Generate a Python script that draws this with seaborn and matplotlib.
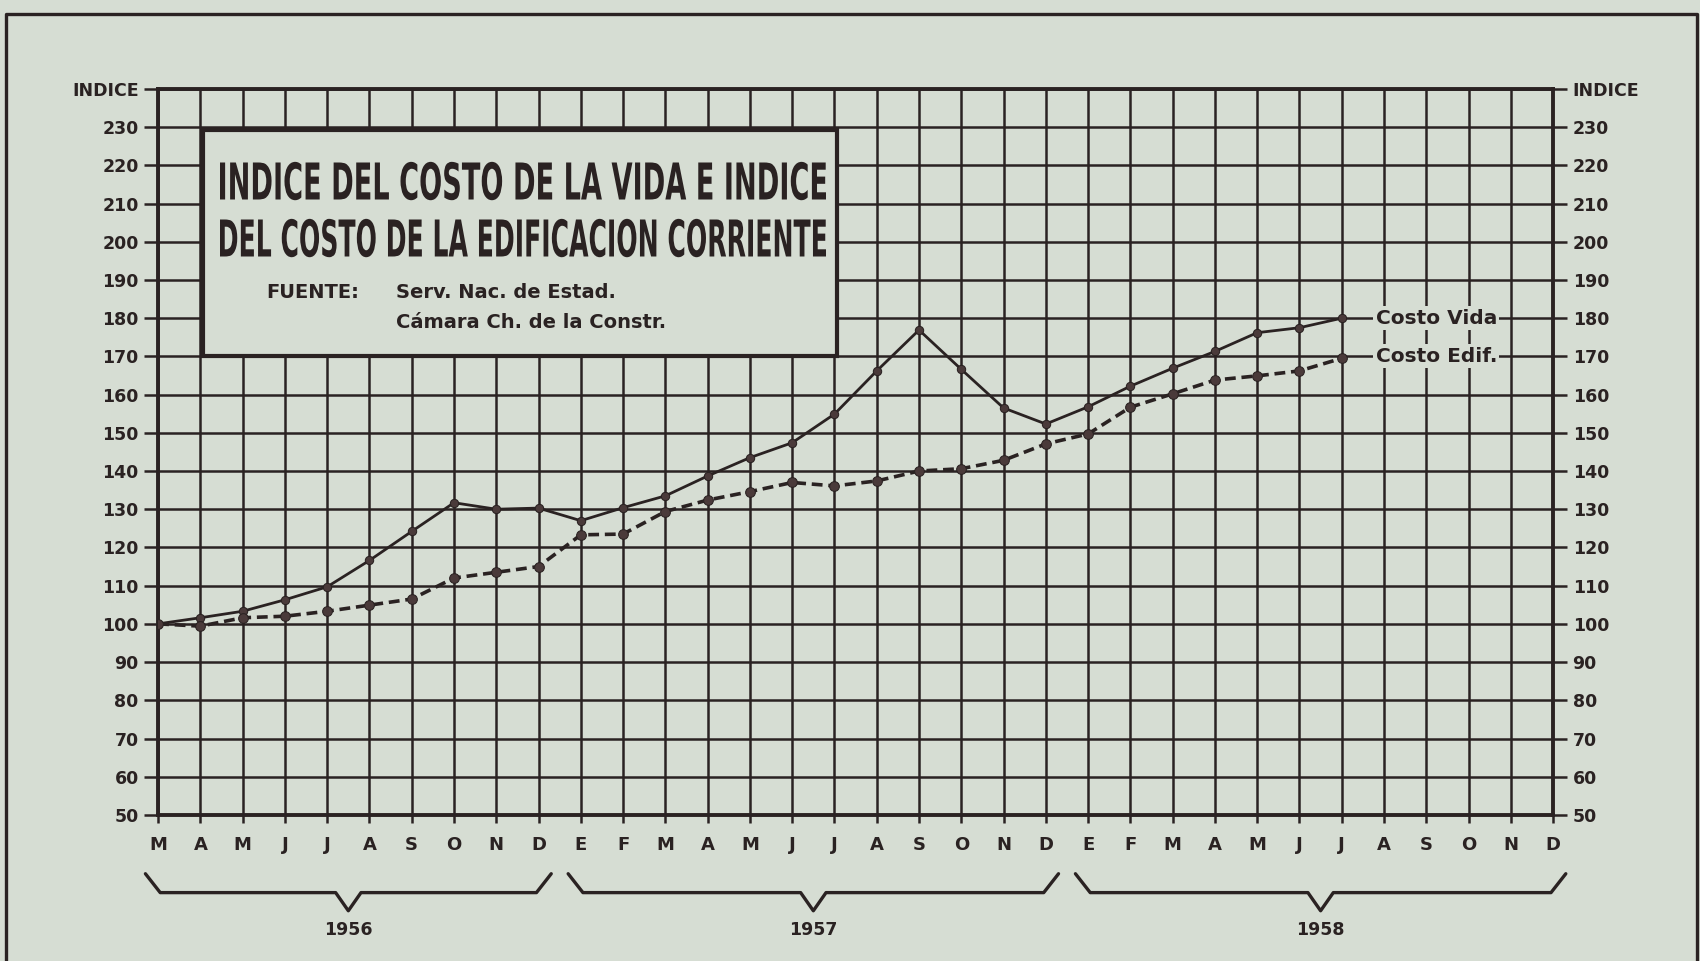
import pandas as pd
import matplotlib
matplotlib.use("Agg")
import matplotlib.pyplot as plt
import seaborn as sns
from matplotlib.patches import Rectangle, PathPatch
from matplotlib.lines import Line2D
from matplotlib.textpath import TextPath
from matplotlib.font_manager import FontProperties
from matplotlib import transforms

# Datos (Marzo 1956 - Julio 1958)
years = ["1956", "1957", "1958"]
meses_1956 = ["M", "A", "M", "J", "J", "A", "S", "O", "N", "D"]
meses_anio = ["E", "F", "M", "A", "M", "J", "J", "A", "S", "O", "N", "D"]
month_labels = meses_1956 + meses_anio + meses_anio
months_per_year = [len(meses_1956), len(meses_anio), len(meses_anio)]

costo_vida = [100, 101.6, 103.3, 106.3, 109.7, 116.6, 124.2, 131.7, 130.0, 130.3,
              127.0, 130.4, 133.5, 138.7, 143.5, 147.4, 154.9, 166.2, 176.9, 166.6, 156.5, 152.3,
              156.8, 162.2, 166.9, 171.3, 176.2, 177.5, 180.0]
costo_edif = [100, 99.4, 101.6, 102.0, 103.3, 104.9, 106.5, 112.0, 113.5, 115.0,
              123.3, 123.5, 129.4, 132.4, 134.6, 137.0, 136.1, 137.4, 140.0, 140.6, 142.8, 147.1,
              149.7, 156.7, 160.2, 163.8, 164.9, 166.2, 169.5]

y_ticks = list(range(50, 241, 10))
y_labels = [str(v) for v in range(50, 231, 10)] + ["INDICE"]

title_lines = ["INDICE DEL COSTO DE LA VIDA E INDICE", "DEL COSTO DE LA EDIFICACION CORRIENTE"]
fuente = ["Serv. Nac. de Estad.", "Cámara Ch. de la Constr."]

bg = "#d6ddd3"
ink = "#2a2222"

sns.set_theme(style="white", rc={"axes.facecolor": bg, "figure.facecolor": bg})
plt.rcParams["font.family"] = ["DejaVu Sans"]
plt.rcParams["font.weight"] = "bold"
plt.rcParams["text.color"] = ink

df = pd.DataFrame({"x": range(len(costo_vida)), "vida": costo_vida, "edif": costo_edif})

fig = plt.figure(figsize=(17, 9.61), dpi=100)
ax = fig.add_axes([0.093, 0.152, 0.8206, 0.7555])

sns.lineplot(data=df, x="x", y="vida", ax=ax, color=ink, lw=2.0, marker="o", markersize=6,
             markeredgecolor=ink, markerfacecolor="#4a3a3a", zorder=5)
sns.lineplot(data=df, x="x", y="edif", ax=ax, color=ink, lw=2.6, linestyle=(0, (3, 1.6)),
             marker="o", markersize=7, markeredgecolor=ink, markerfacecolor="#4a3a3a", zorder=5)

ax.set_xlim(0, len(month_labels) - 1)
ax.set_ylim(50, 240)
ax.set_xticks(range(len(month_labels)))
ax.set_xticklabels(month_labels)
ax.set_yticks(y_ticks)
ax.set_yticklabels(y_labels)
ax.set_xlabel("")
ax.set_ylabel("")
ax.grid(True, color=ink, lw=1.8)
ax.set_axisbelow(True)
for s in ax.spines.values():
    s.set_color(ink)
    s.set_linewidth(2.8)
ax.tick_params(axis="y", left=True, right=True, labelleft=True, labelright=True,
               direction="out", length=10, width=1.8, color=ink, labelsize=12.5, pad=4,
               labelcolor=ink)
ax.tick_params(axis="x", bottom=True, direction="out", length=6, width=1.8, color=ink,
               labelsize=13, pad=9, labelcolor=ink)

# cuadro del titulo
ax.add_patch(Rectangle((0.032, 0.632), 0.455, 0.311, transform=ax.transAxes,
                       facecolor=bg, edgecolor=ink, lw=3, zorder=3))

# titulo con letra alta y estrecha (se escala el trazo del texto)
prop = FontProperties(family="DejaVu Sans", weight="bold", stretch="condensed")
for txt, yc in zip(title_lines, [780, 723]):
    tp = TextPath((0, 0), txt, size=100, prop=prop)
    ext = tp.get_extents()
    sx = 606 / ext.width
    sy = 37 / 72.9
    tr = transforms.Affine2D().translate(-ext.x0 - ext.width / 2, -72.9 / 2) \
        .scale(sx, sy).translate(523, yc)
    fig.add_artist(PathPatch(tp, transform=tr, facecolor=ink, edgecolor="none", zorder=6))

ax.text(0.0774, 0.719, "FUENTE:", transform=ax.transAxes, ha="left", va="center",
        fontsize=14, color=ink, zorder=4)
for txt, yy in zip(fuente, [0.719, 0.678]):
    ax.text(0.1706, yy, txt, transform=ax.transAxes, ha="left", va="center",
            fontsize=14, color=ink, zorder=4)

# rotulos de las series
n = len(costo_vida) - 1
for txt, yy in [("Costo Vida", costo_vida[-1]), ("Costo Edif.", costo_edif[-1])]:
    ax.text(n + 0.8, round(yy / 10) * 10, txt, ha="left", va="center", fontsize=14.5,
            color=ink, zorder=4,
            bbox=dict(boxstyle="square,pad=0.12", facecolor=bg, edgecolor="none"))

# llaves de los anios
trans = transforms.blended_transform_factory(ax.transData, ax.transAxes)
start = 0
for yr, cnt in zip(years, months_per_year):
    a, b = start - 0.3, start + cnt - 1 + 0.3
    mid = start + (cnt - 1) / 2
    xs = [a, a + 0.35, mid - 0.3, mid, mid + 0.3, b - 0.35, b]
    ys = [-0.081, -0.107, -0.107, -0.132, -0.107, -0.107, -0.081]
    ax.add_line(Line2D(xs, ys, transform=trans, color=ink, lw=2.4, clip_on=False))
    ax.text(mid, -0.158, yr, transform=trans, ha="center", va="center", fontsize=12.5, color=ink)
    start += cnt

# marco exterior
fig.add_artist(Line2D([0.0035, 0.0035, 0.9982, 0.9982], [-0.01, 0.9855, 0.9855, -0.01],
                      transform=fig.transFigure, color=ink, lw=2.4))

fig.savefig("out.png", dpi=100, facecolor=bg)
